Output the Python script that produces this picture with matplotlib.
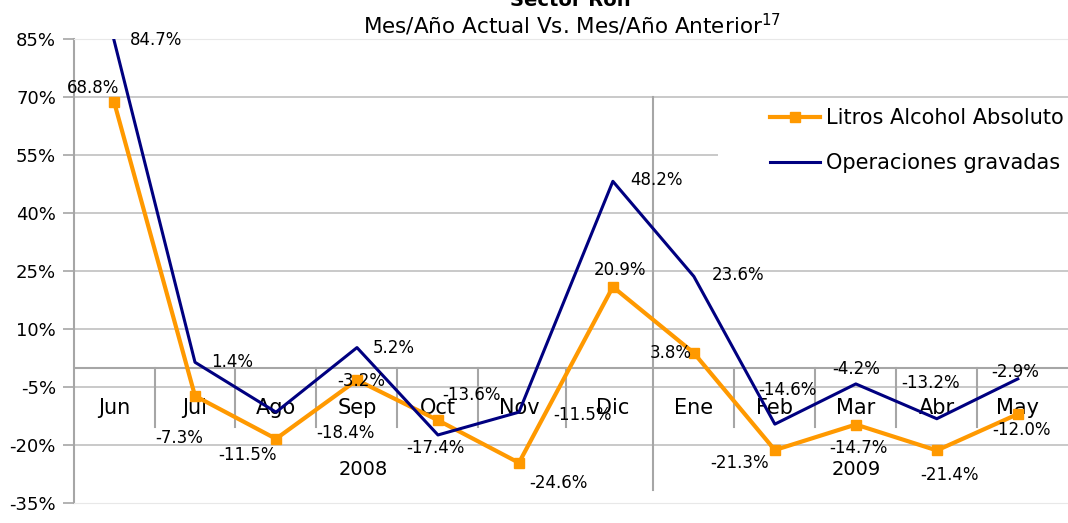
import matplotlib
matplotlib.use('Agg')
import matplotlib.pyplot as plt
from matplotlib.patches import Rectangle
import numpy as np

# data
months = ['Jun', 'Jul', 'Ago', 'Sep', 'Oct', 'Nov', 'Dic', 'Ene', 'Feb', 'Mar', 'Abr', 'May']
years = ['2008', '2009']
litros = [68.8, -7.3, -18.4, -3.2, -13.6, -24.6, 20.9, 3.8, -21.3, -14.7, -21.4, -12.0]
operaciones = [84.7, 1.4, -11.5, 5.2, -17.4, -11.5, 48.2, 23.6, -14.6, -4.2, -13.2, -2.9]
yticks = [-35, -20, -5, 10, 25, 40, 55, 70, 85]

plt.rcParams['font.family'] = 'DejaVu Sans'

fig = plt.figure(figsize=(10.68, 5.23), dpi=100)
ax = fig.add_axes([0.0693, 0.0382, 0.9307, 0.8872])

# the 2009 block sits a little further right in the original
x = np.arange(12) + 0.16 * (np.arange(12) >= 6)

orange = '#FF9900'
navy = '#000080'

for yv in yticks[1:-1]:
    ax.axhline(yv, color='#c0c0c0', lw=1.2, zorder=0)
ax.axhline(0, color='#a6a6a6', lw=1.5, zorder=1)

# category separators
for i in range(11):
    xm = (x[i] + x[i + 1]) / 2
    if i == 6:
        ax.plot([xm, xm], [-31.6, 70], color='#a6a6a6', lw=1.5, zorder=1)
    else:
        ax.plot([xm, xm], [0, -15.3], color='#a6a6a6', lw=1.5, zorder=1)

ax.plot(x, litros, color=orange, lw=3.0, marker='s', ms=7.5, zorder=3,
        label='Litros Alcohol Absoluto')
ax.plot(x, operaciones, color=navy, lw=2.2, zorder=4, label='Operaciones gravadas')

ax.set_xlim(-0.494, 11.78)
ax.set_ylim(-35, 85)
ax.set_yticks(yticks)
ax.set_yticklabels(['%d%%' % v for v in yticks], fontsize=13)
ax.set_xticks([])
ax.tick_params(axis='y', length=8, width=1.2, color='#a6a6a6', pad=5)
ax.spines['left'].set_color('#a6a6a6')
ax.spines['left'].set_linewidth(1.5)
ax.spines['right'].set_visible(False)
ax.spines['top'].set_color('#e8e8e8')
ax.spines['bottom'].set_color('#e8e8e8')

# month and year labels under the zero line
for i, m in enumerate(months):
    ax.annotate(m, xy=(x[i], 0), xytext=(0, -40), textcoords='offset pixels',
                ha='center', va='center', fontsize=15, zorder=2)
ax.annotate(years[0], xy=((x[0] + x[6]) / 2, 0), xytext=(0, -102),
            textcoords='offset pixels', ha='center', va='center', fontsize=14)
ax.annotate(years[1], xy=((x[7] + x[11]) / 2, 0), xytext=(0, -102),
            textcoords='offset pixels', ha='center', va='center', fontsize=14)

# data labels (offsets in pixels, like the original)
op_off = [(16, 0, 'left'), (16, 0, 'left'), (-28, -43, 'center'), (16, 0, 'left'),
          (-3, -13, 'center'), (34, -3, 'left'), (17, 1, 'left'), (18, 1, 'left'),
          (13, 34, 'center'), (0, 15, 'center'), (-6, 36, 'center'), (-3, 7, 'center')]
li_off = [(-21, 14, 'center'), (-16, -42, 'center'), (69, 6, 'center'), (4, -1, 'center'),
          (34, 25, 'center'), (40, -20, 'center'), (7, 17, 'center'), (-2, 0, 'right'),
          (-35, -13, 'center'), (3, -23, 'center'), (13, -25, 'center'), (4, -16, 'center')]
for i in range(12):
    dx, dy, ha = op_off[i]
    ax.annotate('%.1f%%' % operaciones[i], xy=(x[i], operaciones[i]), xytext=(dx, dy),
                textcoords='offset pixels', ha=ha, va='center', fontsize=12, zorder=5)
    dx, dy, ha = li_off[i]
    ax.annotate('%.1f%%' % litros[i], xy=(x[i], litros[i]), xytext=(dx, dy),
                textcoords='offset pixels', ha=ha, va='center', fontsize=12, zorder=5)

# white legend area covering the 55% gridline
ax.add_patch(Rectangle((0.648, 0.653), 0.352, 0.216, transform=ax.transAxes,
                       facecolor='white', edgecolor='none', zorder=1.5))
leg = ax.legend(loc='upper left', bbox_to_anchor=(0.700, 0.851), frameon=False,
                fontsize=15, handlelength=2.4, handletextpad=0.3, labelspacing=1.2,
                borderpad=0, borderaxespad=0)

fig.text(0.534, 1 - 6 / 523, 'Sector Ron', ha='center', va='baseline',
         fontsize=14, fontweight='bold')
fig.text(0.536, 1 - 34 / 523, 'Mes/Año Actual Vs. Mes/Año Anterior$^{17}$',
         ha='center', va='baseline', fontsize=15.5)

fig.savefig('out.png', dpi=100)
